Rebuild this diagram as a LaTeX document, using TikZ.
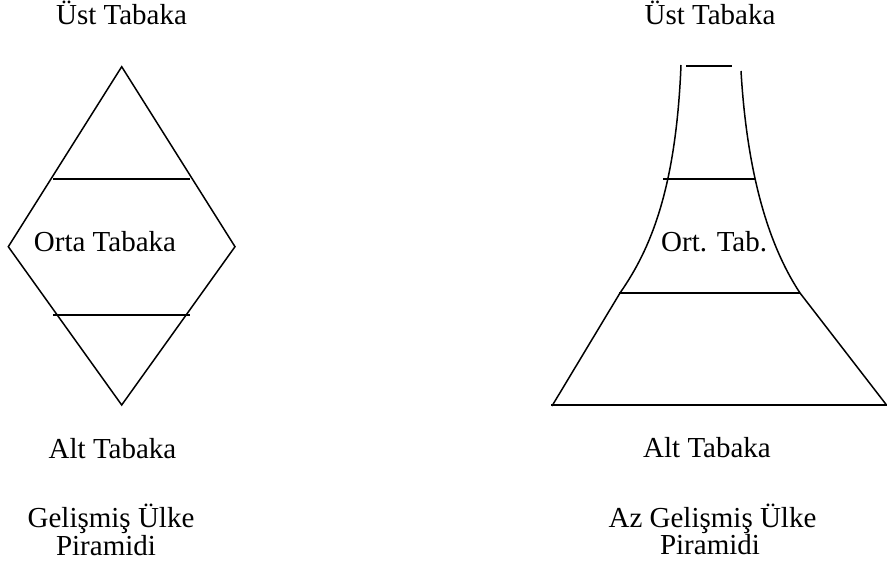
\documentclass[tikz,border=0pt]{standalone}
\usepackage{fontspec}
\setmainfont{Liberation Serif}
\begin{document}
\begin{tikzpicture}[x=1pt,y=-1pt,
  shape line/.style={line width=1.5pt, line join=miter},
  lbl/.style={inner sep=0pt, anchor=base, font=\fontsize{29}{33}\selectfont}]
\useasboundingbox (0,0) rectangle (887,577);
% ---------- left: diamond pyramid ----------
\coordinate (dT) at (121.7,66.7);
\coordinate (dL) at (8.3,246.7);
\coordinate (dR) at (235,246.7);
\coordinate (dB) at (121.7,405);
\draw[shape line] (dT) -- (dR) -- (dB) -- (dL) -- cycle;
\coordinate (u1) at (53,179); \coordinate (u2) at (190,179);
\coordinate (l1) at (53,315); \coordinate (l2) at (190,315);
\draw[shape line] (u1) -- (u2);
\draw[shape line] (l1) -- (l2);
\node[lbl] (ust1) at (121.5,25) {Üst Tabaka};
\node[lbl] (orta) at (105,252) {Orta Tabaka};
\node[lbl] (alt1) at (112.5,458) {Alt Tabaka};
\node[lbl] (gel1) at (111,527) {Gelişmiş Ülke};
\node[lbl] (pir1) at (106,555) {Piramidi};
% ---------- right: flared pyramid ----------
\coordinate (rTL) at (681,65);
\coordinate (rML) at (620,293);
\coordinate (rBL) at (552,406);
\coordinate (rTR) at (741,71);
\coordinate (rMR) at (800,293);
\coordinate (rBR) at (886.5,405);
\draw[shape line] (rTL) .. controls (676,190) and (650,250) .. (rML) -- (rBL);
\draw[shape line] (rTR) .. controls (748,190) and (775,255) .. (rMR) -- (rBR);
\coordinate (h0a) at (686,66);  \coordinate (h0b) at (732,66);
\coordinate (h1a) at (663,179); \coordinate (h1b) at (755,179);
\coordinate (h2a) at (619,293); \coordinate (h2b) at (800,293);
\coordinate (h3a) at (551,405); \coordinate (h3b) at (887,405);
\draw[shape line] (h0a) -- (h0b);
\draw[shape line] (h1a) -- (h1b);
\draw[shape line] (h2a) -- (h2b);
\draw[shape line] (h3a) -- (h3b);
\node[lbl] (ust2) at (710,25) {Üst Tabaka};
\node[lbl, anchor=base west] (ort) at (661,252) {Ort. Tab.};
\node[lbl] (alt2) at (707,457) {Alt Tabaka};
\node[lbl] (gel2) at (712.5,527) {Az Gelişmiş Ülke};
\node[lbl] (pir2) at (710,554) {Piramidi};
\end{tikzpicture}
\end{document}
